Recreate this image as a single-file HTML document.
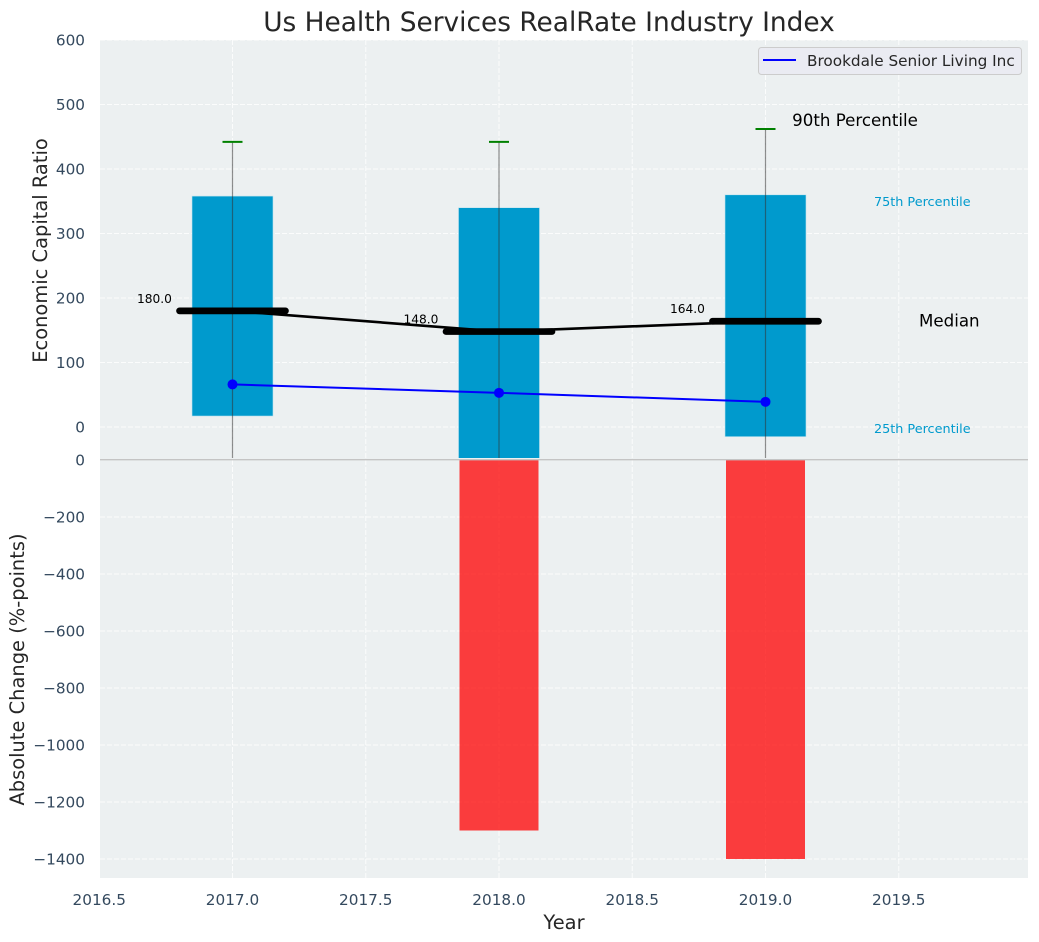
<!DOCTYPE html>
<html>
<head>
<meta charset="utf-8">
<title>Us Health Services RealRate Industry Index</title>
<style>
html,body{margin:0;padding:0;background:#fff;width:1039px;height:942px;overflow:hidden}
svg{display:block}
text{font-family:"DejaVu Sans","Liberation Sans",sans-serif}
</style>
</head>
<body>
<svg id="chart" width="1039" height="942" viewBox="0 0 1039 942" xmlns="http://www.w3.org/2000/svg"></svg>
<script>
const years = [2017, 2018, 2019];
const p90 = [442, 442, 462];
const p75 = [358, 340, 360];
const median = [180, 148, 164];
const p25 = [17, -60, -15];
const p10 = [-60, -60, -60];
const company = [66, 53, 39];
const changes = [0, -1300, -1400];
const medianLabels = ['180.0', '148.0', '164.0'];
const xTicks = [2016.5, 2017, 2017.5, 2018, 2018.5, 2019, 2019.5];
const xTickLabels = ['2016.5', '2017.0', '2017.5', '2018.0', '2018.5', '2019.0', '2019.5'];
const yTopTicks = [0, 100, 200, 300, 400, 500, 600];
const yTopLabels = ['0', '100', '200', '300', '400', '500', '600'];
const yBottomTicks = [0, -200, -400, -600, -800, -1000, -1200, -1400];
const yBottomLabels = ['0', '\u2212200', '\u2212400', '\u2212600', '\u2212800', '\u22121000', '\u22121200', '\u22121400'];

const NS = 'http://www.w3.org/2000/svg';
const svg = document.getElementById('chart');
const L = 100, R = 1028, T = 40, MID = 458, B2 = 460, B = 878;
function x(v) { return 232.5 + (v - 2017) * 266.5; }
function yTop(v) { return 427 - v * 0.645; }
function yBottom(v) { return 460 - v * 0.285; }
function mk(tag, attrs, parent) {
  const e = document.createElementNS(NS, tag);
  for (const k in attrs) e.setAttribute(k, attrs[k]);
  (parent || svg).appendChild(e);
  return e;
}
function txt(s, attrs, parent) {
  const e = mk('text', attrs, parent);
  e.textContent = s;
  return e;
}

const defs = mk('defs', {});
const clip = mk('clipPath', { id: 'top-clip' }, defs);
mk('rect', { x: L, y: T, width: R - L, height: MID - T }, clip);

let el;
el = mk('rect', { x: L, y: T, width: R - L, height: MID - T, fill: '#ecf0f1' });


el = mk('rect', { x: L, y: MID, width: R - L, height: B - MID, fill: '#ecf0f1' });



const gridStyle = { stroke: '#ffffff', 'stroke-opacity': 0.8, 'stroke-width': 1, 'stroke-dasharray': '5 2', fill: 'none' };
xTicks.forEach(function (t) {
  let g = mk('line', Object.assign({ x1: x(t), x2: x(t), y1: T, y2: MID }, gridStyle));
  
  
  g = mk('line', Object.assign({ x1: x(t), x2: x(t), y1: B2, y2: B }, gridStyle));
  
  
});
yTopTicks.forEach(function (t) {
  const g = mk('line', Object.assign({ x1: L, x2: R, y1: yTop(t), y2: yTop(t) }, gridStyle));
  
  
});
yBottomTicks.forEach(function (t) {
  if (t === 0) return;
  const g = mk('line', Object.assign({ x1: L, x2: R, y1: yBottom(t), y2: yBottom(t) }, gridStyle));
  
  
});

const upper = mk('g', { 'clip-path': 'url(#top-clip)' });



years.forEach(function (yr, i) {
  const top = yTop(p75[i]);
  const bottom = yTop(p25[i]);
  const b = mk('rect', { x: x(yr) - 40.5, y: top, width: 81, height: bottom - top, fill: '#009acd', stroke: '#bfe3ef', 'stroke-width': 0.6 }, upper);
  
  
});

years.forEach(function (yr, i) {
  const w = mk('line', { x1: x(yr), x2: x(yr), y1: yTop(p90[i]), y2: yTop(p10[i]), stroke: '#333333', 'stroke-opacity': 0.55, 'stroke-width': 1.2 }, upper);
  
  
  const c = mk('line', { x1: x(yr) - 10, x2: x(yr) + 10, y1: yTop(p90[i]), y2: yTop(p90[i]), stroke: '#008000', 'stroke-width': 2 }, upper);
  
  
});

const medianPath = mk('polyline', {
  points: years.map(function (yr, i) { return x(yr) + ',' + yTop(median[i]); }).join(' '),
  fill: 'none', stroke: '#000000', 'stroke-width': 2.6
}, upper);



years.forEach(function (yr, i) {
  const m = mk('line', { x1: x(yr) - 53, x2: x(yr) + 53, y1: yTop(median[i]), y2: yTop(median[i]), stroke: '#000000', 'stroke-width': 6.7, 'stroke-linecap': 'round' }, upper);
  
  
  const t = txt(medianLabels[i], { x: x(yr) - 78, y: yTop(median[i]) - 8, 'text-anchor': 'middle', 'font-size': 12.2, fill: '#000000' });
  
  
});

const companyPath = mk('polyline', {
  points: years.map(function (yr, i) { return x(yr) + ',' + yTop(company[i]); }).join(' '),
  fill: 'none', stroke: '#0000ff', 'stroke-width': 2
}, upper);


years.forEach(function (yr, i) {
  const p = mk('circle', { cx: x(yr), cy: yTop(company[i]), r: 5, fill: '#0000ff' }, upper);
  
  
});

years.forEach(function (yr, i) {
  if (changes[i] === 0) return;
  const r = mk('rect', { x: x(yr) - 39.5, y: yBottom(0), width: 79, height: yBottom(changes[i]) - yBottom(0), fill: '#ff0000', 'fill-opacity': 0.75 });
  
  
});

el = mk('line', { x1: L, x2: R, y1: 459.7, y2: 459.7, stroke: '#c4c4c4', 'stroke-width': 1.4 });



const tickColor = '#34495e';
xTicks.forEach(function (t, i) {
  const e = txt(xTickLabels[i], { x: x(t), y: 905, 'text-anchor': 'middle', 'font-size': 15.28, fill: tickColor });
  
  
});
yTopTicks.forEach(function (t, i) {
  const e = txt(yTopLabels[i], { x: 85, y: yTop(t) + 5.5, 'text-anchor': 'end', 'font-size': 15.28, fill: tickColor });
  
  
});
yBottomTicks.forEach(function (t, i) {
  const e = txt(yBottomLabels[i], { x: 85, y: yBottom(t) + 5.5, 'text-anchor': 'end', 'font-size': 15.28, fill: tickColor });
  
  
});

el = txt('Us Health Services RealRate Industry Index', { x: 549, y: 31, 'text-anchor': 'middle', 'font-size': 26.4, fill: '#262626' });


el = txt('Year', { x: 564, y: 929, 'text-anchor': 'middle', 'font-size': 19.44, fill: '#262626' });


el = txt('Economic Capital Ratio', { x: 0, y: 0, transform: 'translate(47,250.5) rotate(-90)', 'text-anchor': 'middle', 'font-size': 19.44, fill: '#262626' });


el = txt('Absolute Change (%-points)', { x: 0, y: 0, transform: 'translate(24,669.5) rotate(-90)', 'text-anchor': 'middle', 'font-size': 19.44, fill: '#262626' });



el = txt('90th Percentile', { x: x(2019.1), y: yTop(p90[2]) - 3, 'font-size': 16.67, fill: '#000000' });


el = txt('75th Percentile', { x: x(2019.407), y: yTop(p75[2]) + 11, 'font-size': 12.8, fill: '#009acd' });


el = txt('Median', { x: x(2019.576), y: yTop(median[2]) + 5.5, 'font-size': 16.67, fill: '#000000' });


el = txt('25th Percentile', { x: x(2019.407), y: yTop(p25[2]) - 3.5, 'font-size': 12.8, fill: '#009acd' });



const legend = mk('g', {});


el = mk('rect', { x: 758.5, y: 47.5, width: 263, height: 27, rx: 3, ry: 3, fill: '#eaeaf2', 'fill-opacity': 0.9, stroke: '#cccccc', 'stroke-width': 1 }, legend);


el = mk('line', { x1: 763, x2: 796, y1: 60, y2: 60, stroke: '#0000ff', 'stroke-width': 2 }, legend);


el = txt('Brookdale Senior Living Inc', { x: 807, y: 66, 'font-size': 15.28, fill: '#262626' }, legend);


</script>
</body>
</html>
